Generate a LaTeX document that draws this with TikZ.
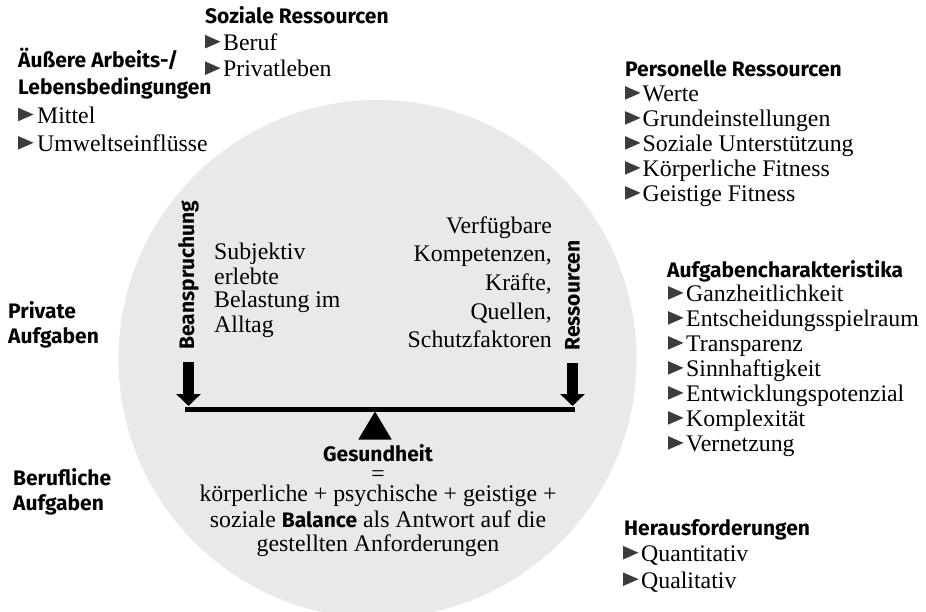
\documentclass[tikz,border=0pt]{standalone}
\usepackage{fontspec}
\setmainfont{Liberation Serif}
\setsansfont{Fira Sans}
\usepackage{tikz}
\usetikzlibrary{arrows.meta}

\definecolor{discgray}{HTML}{E9E9E9}
\definecolor{bulgray}{HTML}{3C3C3C}
\newcommand\hdfont{\sffamily\bfseries\fontsize{21}{25}\selectfont}

\tikzset{
  head/.style={font=\hdfont, inner sep=0pt, anchor=base west},
  txt/.style={font=\fontsize{23.8}{24}\selectfont, inner sep=0pt, anchor=base west},
  tri/.pic={\fill[bulgray] (0,-2) -- (15.5,-8.8) -- (0,-15.6) -- cycle;},
  push/.style={line width=10.5pt, -{Triangle[width=24pt,length=12pt]}}
}

\begin{document}
\begin{tikzpicture}[x=1pt, y=-1pt]
  \useasboundingbox (0,0) rectangle (926,612);
  \fill[discgray] (377.5,359) circle (259);

  % Waage
  \coordinate (beamL) at (185,409);
  \coordinate (beamR) at (575,409);
  \draw[line width=5pt] (beamL) -- (beamR);
  \fill (375,411.5) -- (391.7,439.5) -- (358.3,439.5) -- cycle;

  \node[head, anchor=center, rotate=90] (bean) at (188.5,275) {Beanspruchung};
  \node[head, anchor=center, rotate=90] (ress) at (572.5,295.5) {Ressourcen};
  \draw[push, shorten <=12pt, shorten >=3pt] (bean.west) -- (bean.west |- beamL);
  \draw[push, shorten <=12pt, shorten >=3pt] (ress.west) -- (ress.west |- beamR);

  \foreach \t [count=\i] in {Subjektiv, erlebte, Belastung im, Alltag}
    \node[txt] (subj-\i) at (214, 236+24*\i) {\t};
  \foreach \t [count=\i] in {Verfügbare, {Kompetenzen,}, {Kräfte,}, {Quellen,}, Schutzfaktoren}
    \node[txt, anchor=base east] (verf-\i) at (552, 204.7+28.6*\i) {\t};

  % Gesundheit
  \node[txt, anchor=base] (ges) at (378,461.7) {\begin{tabular}[t]{@{}c@{}}
    {\hdfont Gesundheit}\\[-4pt]
    =\\[-4pt]
    körperliche + psychische + geistige +\\[2pt]
    soziale {\hdfont Balance} als Antwort auf die\\
    gestellten Anforderungen
  \end{tabular}};

  % aussen
  \node[head] (aeus-1) at (18,67.7) {Äußere Arbeits-/};
  \node[head] (aeus-2) at (18,95) {Lebensbedingungen};
  \foreach \t [count=\i] in {Mittel, Umweltseinflüsse} {
    \pic at (18, 95+28.3*\i) {tri};
    \node[txt] (aeus-i\i) at (37, 95+28.3*\i) {\t};
  }

  \node[head] (soz) at (205,24) {Soziale Ressourcen};
  \foreach \t [count=\i] in {Beruf, Privatleben} {
    \pic at (205, 24+26.5*\i) {tri};
    \node[txt] (soz-\i) at (223, 24+26.5*\i) {\t};
  }

  \node[head] (pers) at (625,76.7) {Personelle Ressourcen};
  \foreach \t [count=\i] in {Werte, Grundeinstellungen, Soziale Unterstützung, Körperliche Fitness, Geistige Fitness} {
    \pic at (625, 76.7+25*\i) {tri};
    \node[txt] (pers-\i) at (642.5, 76.7+25*\i) {\t};
  }

  \node[head] (aufg) at (667,277) {Aufgabencharakteristika};
  \foreach \t [count=\i] in {Ganzheitlichkeit, Entscheidungsspielraum, Transparenz, Sinnhaftigkeit, Entwicklungspotenzial, Komplexität, Vernetzung} {
    \pic at (668, 276.7+25*\i) {tri};
    \node[txt] (aufg-\i) at (686, 276.7+25*\i) {\t};
  }

  \node[head] (heraus) at (624,535) {Herausforderungen};
  \foreach \t [count=\i] in {Quantitativ, Qualitativ} {
    \pic at (623, 535+26.5*\i) {tri};
    \node[txt] (heraus-\i) at (641, 535+26.5*\i) {\t};
  }

  \node[head] (priv-1) at (8,318) {Private};
  \node[head] (priv-2) at (8,343) {Aufgaben};
  \node[head] (beruf-1) at (13,485) {Berufliche};
  \node[head] (beruf-2) at (13,510) {Aufgaben};
\end{tikzpicture}
\end{document}
